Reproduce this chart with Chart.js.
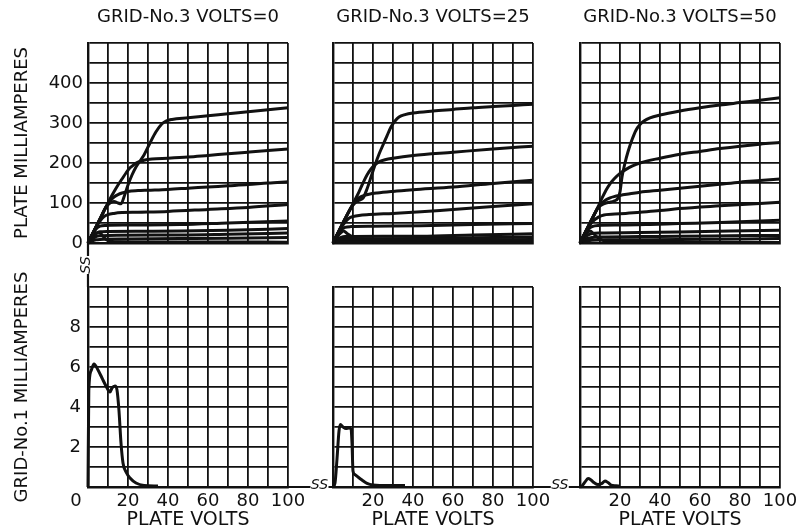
<!DOCTYPE html>
<html><head><meta charset="utf-8">
<script src="https://cdn.jsdelivr.net/npm/chart.js@4.4.1/dist/chart.umd.min.js"></script>
<style>
html,body{margin:0;padding:0;background:#fff;}
#wrap{position:relative;width:798px;height:531px;overflow:hidden;background:#fff;}
#wrap canvas{position:absolute;left:0;top:0;}
</style></head><body>
<div id="wrap">
<canvas id="c0" width="798" height="531"></canvas>
<canvas id="c1" width="798" height="531"></canvas>
<canvas id="c2" width="798" height="531"></canvas>
<canvas id="c3" width="798" height="531"></canvas>
<canvas id="c4" width="798" height="531"></canvas>
<canvas id="c5" width="798" height="531"></canvas>
</div>
<script>
// ---------- text / ticks ----------
const PANEL_TITLES = ['GRID-No.3 VOLTS=0', 'GRID-No.3 VOLTS=25', 'GRID-No.3 VOLTS=50'];
const X_TITLE = 'PLATE VOLTS';
const Y_TITLE_TOP = 'PLATE MILLIAMPERES';
const Y_TITLE_BOTTOM = 'GRID-No.1 MILLIAMPERES';
const X_TICK_LABELS = [0, 20, 40, 60, 80, 100];
const PLATE_MA_TICK_LABELS = [0, 100, 200, 300, 400];
const GRID1_MA_TICK_LABELS = [2, 4, 6, 8];

// ---------- plate current curves, [plate volts, plate mA] ----------
const plateG3v0 = [
  [[0,0],[3,30],[6,60],[9,90],[11,100],[13,104],[15,100],[16.5,98],[18,115],[20,145],[22,170],[24,190],[26,205],[28,220],[31,250],[34,278],[37,298],[39,305],[42,309],[50,313],[60,318],[70,323],[80,328],[90,333],[100,338]],
  [[0,0],[3,30],[6,60],[9,90],[11,110],[13,128],[15,145],[17,160],[19,175],[21,188],[23,196],[25,202],[28,207],[32,210],[40,212],[50,215],[60,219],[70,223],[80,227],[90,231],[100,235]],
  [[0,0],[3,30],[6,60],[9,90],[11,105],[13,115],[15,121],[17,125],[20,129],[25,131],[30,132],[40,134],[50,137],[60,140],[70,143],[80,146],[90,150],[100,153]],
  [[0,0],[3,30],[6,55],[8,66],[10,71],[13,74],[17,76],[25,77],[40,79],[60,84],[80,89],[100,96]],
  [[0,0],[2,20],[4,35],[6,42],[9,44],[20,45],[46,46],[70,50],[100,55]],
  [[0,0],[2,15],[4,24],[6,28],[10,29],[30,29.5],[46,30],[70,32],[100,36]],
  [[0,0],[2,10],[4,16],[6,18],[10,19],[46,20],[70,22],[100,25]],
  [[0,0],[2,5],[4,8],[6,9],[20,10],[46,11],[70,12],[100,14]],
  [[0,0],[2,14],[4,24],[5.5,27],[7,20],[8.5,11],[10,6],[12,4],[16,3],[30,2.5],[60,2.5],[100,2]]
];
const plateG3v25 = [
  [[0,0],[3,30],[6,60],[9,88],[11,100],[13,107],[15,112],[17,135],[19,165],[21,195],[23,222],[25,245],[27,268],[29,290],[31,305],[33,315],[36,321],[40,325],[50,330],[60,334],[70,338],[80,341],[90,344],[100,347]],
  [[0,0],[3,30],[6,60],[9,88],[11,108],[13,128],[15,150],[17,170],[19,185],[21,196],[23,203],[26,208],[30,212],[40,219],[60,227],[80,235],[100,242]],
  [[0,0],[3,30],[6,60],[9,88],[11,103],[13,113],[15,118],[18,122],[22,125],[30,129],[40,133],[60,140],[80,149],[100,157]],
  [[0,0],[3,30],[6,52],[8,62],[10,66],[13,69],[18,71],[30,74],[44,78],[60,84],[80,91],[100,98]],
  [[0,0],[2,20],[4,33],[6,39],[9,41],[20,42],[44,43],[70,46],[100,49]],
  [[0,0],[2,10],[4,14],[6,16],[10,16.5],[44,17],[70,20],[100,23]],
  [[0,0],[2,6],[4,9],[6,10],[20,10.5],[44,11],[70,13],[100,15]],
  [[0,0],[2,3],[4,5],[8,6],[44,7],[100,8.5]],
  [[0,0],[2,15],[4,26],[5.3,30],[7,24],[10,15],[13,8],[15.5,4],[18,2],[25,1],[100,1]]
];
const plateG3v50 = [
  [[0,0],[3,30],[6,60],[9,88],[11,96],[13,100],[15,102],[17,105],[19,112],[20,128],[21,165],[22.5,200],[24,228],[26,258],[28,282],[30,296],[32,305],[35,313],[40,320],[50,330],[60,338],[70,345],[80,351],[90,357],[100,363]],
  [[0,0],[3,30],[6,60],[9,90],[11,112],[13,132],[15,148],[17,160],[20,174],[23,184],[26,192],[30,200],[40,212],[50,222],[60,229],[70,236],[80,242],[90,247],[100,251]],
  [[0,0],[3,30],[6,60],[9,88],[11,100],[13,108],[15,113],[17,116],[20,119],[25,123],[30,127],[40,132],[50,137],[60,142],[70,147],[80,152],[90,156],[100,160]],
  [[0,0],[3,30],[6,52],[9,64],[12,70],[20,73],[30,77],[40,81],[49.5,86],[70,93],[100,102]],
  [[0,0],[2,20],[4,34],[6,41],[9,44],[20,45],[35,46.5],[49.5,48.5],[70,51],[100,57]],
  [[0,0],[2,12],[4,20],[6,24],[10,25],[30,26],[49.5,27.5],[75,30],[100,32]],
  [[0,0],[2,7],[4,12],[6,14],[10,15],[30,16],[49.5,17],[75,18],[100,19]],
  [[0,0],[2,4],[4,6],[6,7],[15,8],[49.5,8.5],[100,11]],
  [[0,0],[2,15],[4,28],[5,30],[7,22],[9,13],[11,7],[13,4],[15,2],[20,1],[100,1]]
];

// ---------- grid-No.1 current, [plate volts, grid-1 mA] ----------
const grid1G3v0 = [[0,0],[0.4,4.8],[1.5,5.8],[3,6.15],[5,5.85],[7,5.45],[9,5.05],[11,4.75],[12,4.95],[13.5,5.05],[14.5,4.85],[15.5,3.8],[16.5,2.2],[17.5,1.2],[19,0.75],[21,0.45],[24,0.2],[28,0.08],[35,0.05]];
const grid1G3v25 = [[0,0],[1,0.2],[2,1.4],[3,2.8],[3.7,3.12],[5,3.0],[6.5,2.92],[8,2.95],[9,2.9],[9.5,2.2],[10,0.8],[11,0.62],[12.5,0.5],[14.5,0.35],[17,0.18],[20,0.1],[28,0.07],[36,0.07]];
const grid1G3v50 = [[0,0],[1,0.05],[2.5,0.25],[4,0.42],[5.5,0.35],[7,0.22],[9,0.12],[11,0.18],[12.5,0.3],[14,0.22],[15.5,0.1],[18,0.06],[20,0.05]];

// ---------- drawing ----------
const INK = '#111111';
const FONT = 'DejaVu Sans';
const W = 798, H = 531;
const charts = [];

function drawSS(ctx, cx, cy, rot) {
  ctx.save();
  ctx.translate(cx, cy);
  ctx.rotate(rot);
  ctx.fillStyle = '#ffffff';
  ctx.fillRect(-9, -5, 18, 10);
  ctx.fillStyle = INK;
  ctx.font = 'italic 14px ' + FONT;
  ctx.textAlign = 'center';
  ctx.textBaseline = 'middle';
  ctx.fillText('SS', 0, -2);
  ctx.restore();
}

const breakMarks = {
  id: 'breakMarks',
  afterDraw(chart) {
    if (charts.length < 5) return;
    const [tl, tm, tr, bl, bm] = charts;
    const br = chart;
    const ctx = chart.ctx;
    ctx.save();
    ctx.strokeStyle = INK;
    ctx.lineWidth = 2.2;
    const x0 = tl.chartArea.left, y1 = tl.chartArea.bottom, y2 = bl.chartArea.top;
    const yb = bl.chartArea.bottom;
    ctx.beginPath();
    ctx.moveTo(x0, y1); ctx.lineTo(x0, y2);
    ctx.moveTo(bl.chartArea.right, yb); ctx.lineTo(bm.chartArea.left, yb);
    ctx.moveTo(bm.chartArea.right, yb); ctx.lineTo(br.chartArea.left, yb);
    ctx.stroke();
    ctx.restore();
    drawSS(ctx, x0, y1 + (y2 - y1) * 0.5, -Math.PI / 2);
    drawSS(ctx, bl.chartArea.right + (bm.chartArea.left - bl.chartArea.right) * 0.7, yb, 0);
    drawSS(ctx, bm.chartArea.right + (br.chartArea.left - bm.chartArea.right) * 0.57, yb, 0);
  }
};

function makePanel(id, p) {
  const isTop = p.row === 0;
  const isLeft = p.col === 0;
  const datasets = p.curves.map(c => ({
    data: c.map(([x, y]) => ({x, y})),
    borderColor: INK,
    borderWidth: 3,
    pointRadius: 0,
    fill: false,
    cubicInterpolationMode: 'monotone',
    clip: 4
  }));
  const padL = isLeft ? 0 : p.left;
  const yWidth = isLeft ? p.left : 0;
  const xHeight = isTop ? 0 : 44;
  const cfg = {
    type: 'line',
    data: {datasets},
    options: {
      responsive: false,
      animation: false,
      devicePixelRatio: 1,
      events: [],
      layout: {padding: {left: padL, right: W - p.right, top: isTop ? 0 : p.top, bottom: isTop ? H - p.bottom : 0}},
      plugins: {
        legend: {display: false},
        tooltip: {enabled: false},
        title: isTop ? {
          display: true, text: p.title, fullSize: false, color: INK,
          font: {family: FONT, size: 18, weight: 'normal', lineHeight: 1.2},
          padding: {top: 6.2, bottom: p.top - 21.6 - 6.2}
        } : {display: false}
      },
      scales: {
        x: {
          type: 'linear', min: 0, max: 100,
          grid: {color: INK, lineWidth: 1.8, drawTicks: false},
          border: {color: INK, width: 2.4},
          ticks: {
            display: !isTop, stepSize: 10, autoSkip: false, maxRotation: 0, padding: 4, color: INK,
            font: {family: FONT, size: 18},
            callback: v => {
              if (!X_TICK_LABELS.includes(v)) return '';
              if (v === 0) return isLeft ? '0\u2003\u2004' : '';
              return String(v);
            }
          },
          title: {display: !isTop, text: X_TITLE, color: INK, font: {family: FONT, size: 19}, padding: {top: 0, bottom: 0}},
          afterFit: s => { s.height = xHeight; s.paddingLeft = 0; s.paddingRight = 0; }
        },
        y: {
          type: 'linear', min: 0, max: isTop ? 500 : 10,
          grid: {color: INK, lineWidth: 1.8, drawTicks: false},
          border: {color: INK, width: 2.4},
          ticks: {
            display: isLeft, stepSize: isTop ? 50 : 1, autoSkip: false, padding: isTop ? 5 : 7, color: INK,
            font: {family: FONT, size: 18},
            callback: v => {
              const list = isTop ? PLATE_MA_TICK_LABELS : GRID1_MA_TICK_LABELS;
              return list.includes(v) ? String(v) : '';
            }
          },
          title: {display: isLeft, text: isTop ? Y_TITLE_TOP : Y_TITLE_BOTTOM, color: INK,
                  font: {family: FONT, size: 18}, padding: {top: 12, bottom: 0}},
          afterFit: s => { s.width = yWidth; s.paddingTop = 0; s.paddingBottom = 0; }
        }
      }
    },
    plugins: p.extra ? [p.extra] : []
  };
  const ch = new Chart(document.getElementById(id), cfg);
  charts.push(ch);
  return ch;
}

const COLS = [{left: 88, right: 288}, {left: 333, right: 533}, {left: 580, right: 780}];
const ROWS = [{top: 43, bottom: 243}, {top: 287, bottom: 487}];
const plateSets = [plateG3v0, plateG3v25, plateG3v50];
const grid1Sets = [grid1G3v0, grid1G3v25, grid1G3v50];

for (let c = 0; c < 3; c++) {
  makePanel('c' + c, {row: 0, col: c, title: PANEL_TITLES[c], curves: plateSets[c],
    left: COLS[c].left, right: COLS[c].right, top: ROWS[0].top, bottom: ROWS[0].bottom});
}
for (let c = 0; c < 3; c++) {
  makePanel('c' + (3 + c), {row: 1, col: c, curves: [grid1Sets[c]],
    left: COLS[c].left, right: COLS[c].right, top: ROWS[1].top, bottom: ROWS[1].bottom,
    extra: c === 2 ? breakMarks : null});
}
</script>
</body></html>
